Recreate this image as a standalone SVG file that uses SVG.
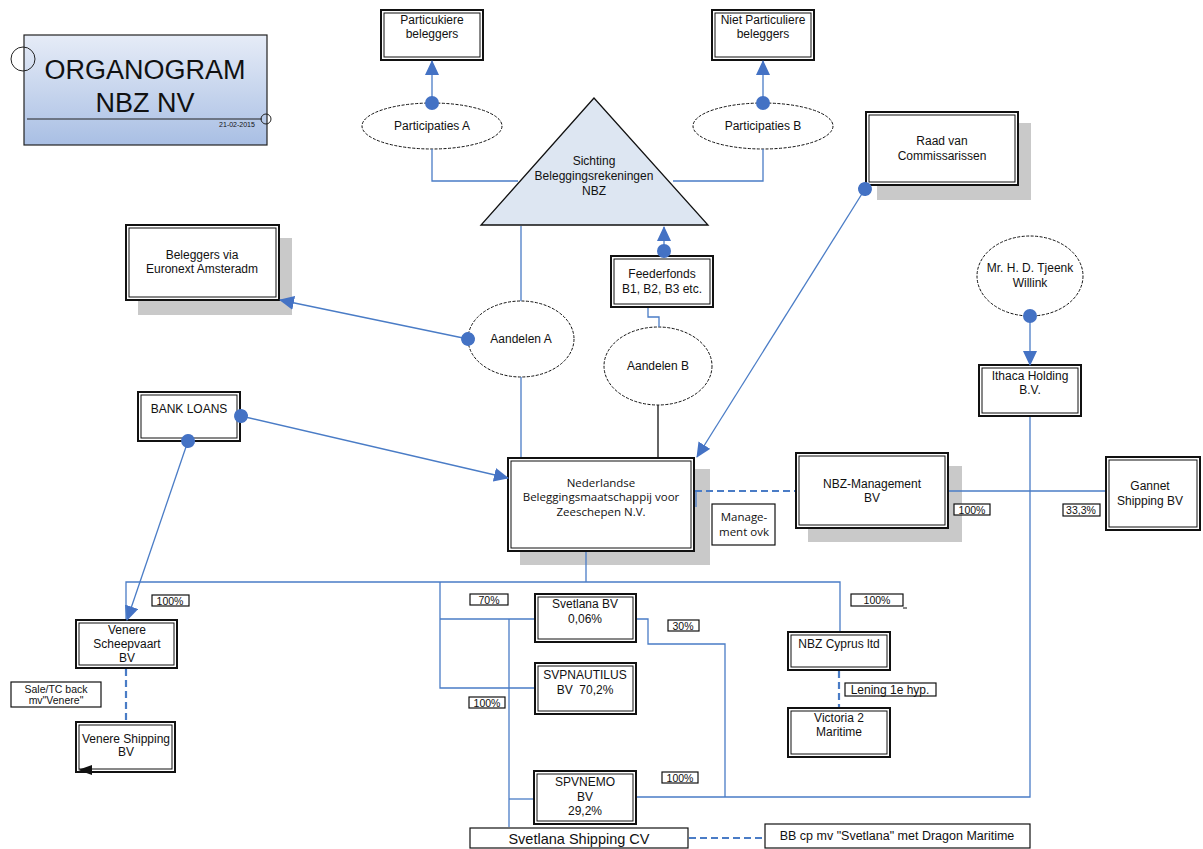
<svg xmlns="http://www.w3.org/2000/svg" width="1203" height="849" viewBox="0 0 1203 849">
<defs>
<linearGradient id="tg" x1="0" y1="0" x2="0" y2="1">
<stop offset="0" stop-color="#e6ecf7"/>
<stop offset="1" stop-color="#a9bfe4"/>
</linearGradient>
<marker id="arr" markerUnits="userSpaceOnUse" markerWidth="15" markerHeight="14" viewBox="0 0 15 14" refX="14" refY="7" orient="auto">
<path d="M0,0 L15,7 L0,14 Z" fill="#4472c4"/>
</marker>
<marker id="dot" markerUnits="userSpaceOnUse" markerWidth="16" markerHeight="16" viewBox="0 0 16 16" refX="8" refY="8" orient="auto">
<circle cx="8" cy="8" r="7" fill="#4472c4"/>
</marker>
</defs>
<style>
text{font-family:"Liberation Sans",Arial,sans-serif;fill:#111;text-anchor:middle}
.t{font-size:12px}
.os{font-family:"Open Sans","Liberation Sans",sans-serif;font-size:11.5px}
.p{font-size:10.5px}
.ob{fill:#fff;stroke:#111;stroke-width:2}
.ib{fill:none;stroke:#111;stroke-width:1}
.sh{fill:#c9c9c9}
.el{fill:#fff;stroke:#111;stroke-width:1;stroke-dasharray:3 1.5}
.lb{fill:#fff;stroke:#111;stroke-width:1.2}
.c{fill:none;stroke:#4a7cc6;stroke-width:1.3}
.cd{fill:none;stroke:#4a7cc6;stroke-width:2.2;stroke-dasharray:7 4}
.k{fill:none;stroke:#111;stroke-width:1.3}
</style>

<g id="title">
<rect x="24" y="35" width="243" height="110" fill="url(#tg)" stroke="#222" stroke-width="1.2"/>
<line x1="27" y1="119" x2="262" y2="119" stroke="#222" stroke-width="1.2"/>
<circle cx="23" cy="59" r="12" fill="none" stroke="#222" stroke-width="1"/>
<circle cx="266" cy="119" r="5" fill="none" stroke="#222" stroke-width="1"/>
<text x="145" y="79" style="font-size:27px">ORGANOGRAM</text>
<text x="145" y="112" style="font-size:27px">NBZ NV</text>
<text x="237" y="127" style="font-size:7px">21-02-2015</text>
</g>

<g id="particuliere">
<rect class="ob" x="381" y="10" width="102" height="50"/>
<rect class="ib" x="384" y="13" width="96" height="44"/>
<text class="t" x="432" y="24">Particukiere</text>
<text class="t" x="432" y="38">beleggers</text>
</g>

<g id="niet-particuliere">
<rect class="ob" x="712" y="10" width="102" height="50"/>
<rect class="ib" x="715" y="13" width="96" height="44"/>
<text class="t" x="763" y="24">Niet Particuliere</text>
<text class="t" x="763" y="38">beleggers</text>
</g>

<g id="participaties-a">
<ellipse class="el" cx="432" cy="126" rx="70" ry="23"/>
<text class="t" x="432" y="130">Participaties A</text>
</g>

<g id="participaties-b">
<ellipse class="el" cx="763" cy="126" rx="70" ry="23"/>
<text class="t" x="763" y="130">Participaties B</text>
</g>

<g id="stichting">
<polygon points="594,98 481,225 708,225" fill="#dde6f2" stroke="#111" stroke-width="1.3"/>
<text class="t" x="594" y="165">Sichting</text>
<text class="t" x="594" y="180">Beleggingsrekeningen</text>
<text class="t" x="594" y="195">NBZ</text>
</g>

<g id="euronext">
<rect class="sh" x="138" y="238" width="154" height="77"/>
<rect class="ob" x="126" y="225" width="153" height="75"/>
<rect class="ib" x="129" y="228" width="147" height="69"/>
<text class="t" x="202" y="259">Beleggers via</text>
<text class="t" x="202" y="273">Euronext Amsteradm</text>
</g>

<g id="aandelen-a">
<ellipse class="el" cx="521" cy="339" rx="53" ry="38"/>
<text class="t" x="521" y="343">Aandelen A</text>
</g>

<g id="feederfonds">
<rect class="ob" x="611" y="256" width="102" height="51"/>
<rect class="ib" x="614" y="259" width="96" height="45"/>
<text class="t" x="662" y="278">Feederfonds</text>
<text class="t" x="662" y="293">B1, B2, B3 etc.</text>
</g>

<g id="aandelen-b">
<ellipse class="el" cx="658" cy="366" rx="54" ry="39"/>
<text class="t" x="658" y="370">Aandelen B</text>
</g>

<g id="raad">
<rect class="sh" x="877" y="123" width="154" height="77"/>
<rect class="ob" x="866" y="112" width="152" height="73"/>
<rect class="ib" x="869" y="115" width="146" height="67"/>
<text class="t" x="942" y="145">Raad van</text>
<text class="t" x="942" y="160">Commissarissen</text>
</g>

<g id="tjeenk">
<ellipse class="el" cx="1030" cy="276" rx="53" ry="40"/>
<text class="t" x="1030" y="272">Mr. H. D. Tjeenk</text>
<text class="t" x="1030" y="287">Willink</text>
</g>

<g id="ithaca">
<rect class="ob" x="979" y="365" width="102" height="51"/>
<rect class="ib" x="982" y="368" width="96" height="45"/>
<text class="t" x="1030" y="380">Ithaca Holding</text>
<text class="t" x="1030" y="394">B.V.</text>
</g>

<g id="bank-loans">
<rect class="ob" x="138" y="392" width="102" height="49"/>
<rect class="ib" x="141" y="395" width="96" height="43"/>
<text class="t" x="189" y="413">BANK LOANS</text>
</g>

<g id="nederlandse">
<rect class="sh" x="520" y="469" width="190" height="96"/>
<rect class="ob" x="508" y="458" width="186" height="93"/>
<rect class="ib" x="511" y="461" width="180" height="87"/>
<text class="os" x="601" y="487">Nederlandse</text>
<text class="os" x="601" y="501">Beleggingsmaatschappij voor</text>
<text class="os" x="601" y="516">Zeeschepen N.V.</text>
</g>

<g id="management-ovk">
<rect class="lb" x="712" y="504" width="63" height="41"/>
<text class="os" x="744" y="521">Manage-</text>
<text class="os" x="744" y="536">ment ovk</text>
</g>

<g id="nbz-management">
<rect class="sh" x="808" y="466" width="154" height="76"/>
<rect class="ob" x="796" y="453" width="152" height="75"/>
<rect class="ib" x="799" y="456" width="146" height="69"/>
<text class="t" x="872" y="488">NBZ-Management</text>
<text class="t" x="872" y="502">BV</text>
</g>

<g id="gannet">
<rect class="ob" x="1106" y="457" width="94" height="73"/>
<rect class="ib" x="1109" y="460" width="88" height="67"/>
<text class="t" x="1150" y="490">Gannet</text>
<text class="t" x="1150" y="505">Shipping BV</text>
</g>

<g id="labels">
<rect class="lb" x="954" y="504" width="36" height="11"/>
<text class="p" x="972" y="513.5">100%</text>
<rect class="lb" x="1063" y="504" width="37" height="12"/>
<text class="p" x="1081" y="514">33,3%</text>
<rect class="lb" x="152" y="595" width="37" height="11"/>
<text class="p" x="170" y="604.5">100%</text>
<rect class="lb" x="470" y="594" width="38" height="11"/>
<text class="p" x="489" y="603.5">70%</text>
<rect class="lb" x="668" y="620" width="31" height="11"/>
<text class="p" x="683" y="629.5">30%</text>
<rect class="lb" x="469" y="697" width="36" height="11"/>
<text class="p" x="487" y="706.5">100%</text>
<rect class="lb" x="662" y="772" width="36" height="11"/>
<text class="p" x="680" y="781.5">100%</text>
<rect class="lb" x="851" y="594" width="52" height="12"/>
<line x1="903" y1="608" x2="907" y2="608" stroke="#111" stroke-width="1"/>
<text class="p" x="877" y="603.5">100%</text>
<rect class="lb" x="845" y="683" width="91" height="13"/>
<text class="t" x="890" y="694">Lening 1e hyp.</text>
<rect class="lb" x="11" y="682" width="90" height="25"/>
<text class="p" x="56" y="692.5">Sale/TC back</text>
<text class="p" x="56" y="704">mv"Venere"</text>
</g>

<g id="venere-scheepvaart">
<rect class="ob" x="76" y="620" width="101" height="48"/>
<rect class="ib" x="79" y="623" width="95" height="42"/>
<text class="t" x="127" y="634">Venere</text>
<text class="t" x="127" y="648">Scheepvaart</text>
<text class="t" x="127" y="662">BV</text>
</g>

<g id="venere-shipping">
<rect class="ob" x="76" y="722" width="99" height="50"/>
<rect class="ib" x="79" y="725" width="93" height="44"/>
<text class="t" x="126" y="743">Venere Shipping</text>
<text class="t" x="126" y="756">BV</text>
</g>

<g id="svetlana-bv">
<rect class="ob" x="535" y="594" width="101" height="48"/>
<rect class="ib" x="538" y="597" width="95" height="42"/>
<text class="t" x="585" y="608">Svetlana BV</text>
<text class="t" x="585" y="623">0,06%</text>
</g>

<g id="svpnautilus">
<rect class="ob" x="535" y="663" width="101" height="51"/>
<rect class="ib" x="538" y="666" width="95" height="45"/>
<text class="t" x="585" y="679">SVPNAUTILUS</text>
<text class="t" x="585" y="694" style="white-space:pre">BV  70,2%</text>
</g>

<g id="spvnemo">
<rect class="ob" x="534" y="771" width="102" height="53"/>
<rect class="ib" x="537" y="774" width="96" height="47"/>
<text class="t" x="585" y="786">SPVNEMO</text>
<text class="t" x="585" y="801">BV</text>
<text class="t" x="585" y="815">29,2%</text>
</g>

<g id="nbz-cyprus">
<rect class="ob" x="788" y="632" width="102" height="38"/>
<rect class="ib" x="791" y="635" width="96" height="32"/>
<text class="t" x="839" y="648">NBZ Cyprus ltd</text>
</g>

<g id="victoria">
<rect class="ob" x="788" y="708" width="102" height="49"/>
<rect class="ib" x="791" y="711" width="96" height="43"/>
<text class="t" x="839" y="722">Victoria 2</text>
<text class="t" x="839" y="736">Maritime</text>
</g>

<g id="svetlana-shipping">
<rect class="lb" x="470" y="828" width="218" height="20"/>
<text x="579" y="844" style="font-size:14.5px">Svetlana Shipping CV</text>
</g>

<g id="bb-dragon">
<rect class="lb" x="765" y="824" width="265" height="24"/>
<text x="897" y="840" style="font-size:12.5px">BB cp mv "Svetlana" met Dragon Maritime</text>
</g>

<g id="connectors">
<path class="c" d="M432,103 V61" marker-start="url(#dot)" marker-end="url(#arr)"/>
<path class="c" d="M763,103 V61" marker-start="url(#dot)" marker-end="url(#arr)"/>
<path class="c" d="M432,149 V181 H518"/>
<path class="c" d="M763,149 V181 H673"/>
<path class="c" d="M521,226 V301"/>
<path class="c" d="M521,377 V457"/>
<path class="c" d="M664,251 V227" marker-start="url(#dot)" marker-end="url(#arr)"/>
<path class="c" d="M659,327 V317 H648 V308"/>
<path class="k" d="M658,405 V457"/>
<path class="c" d="M468,339 L280,300" marker-start="url(#dot)" marker-end="url(#arr)"/>
<path class="c" d="M241,416 L508,478" marker-start="url(#dot)" marker-end="url(#arr)"/>
<path class="c" d="M188,441 L127,620" marker-start="url(#dot)" marker-end="url(#arr)"/>
<path class="c" d="M865,189 L697,457" marker-start="url(#dot)" marker-end="url(#arr)"/>
<path class="c" d="M1030,316 V365" marker-start="url(#dot)" marker-end="url(#arr)"/>
<path class="c" d="M1030,417 V797 H637"/>
<path class="c" d="M586,552 V582"/>
<path class="c" d="M126,619 V582 H840 V631"/>
<path class="c" d="M440,582 V688 H534"/>
<path class="c" d="M440,619 H534"/>
<path class="c" d="M509,619 V827"/>
<path class="c" d="M509,799 H533"/>
<path class="c" d="M637,619 H648 V644 H725 V797"/>
<path class="c" d="M696,492 V507"/>
<path class="cd" d="M695,491 H795"/>
<path class="c" d="M949,491 H1105"/>
<path class="cd" d="M839,671 V707"/>
<path class="cd" d="M126,669 V721"/>
<path class="cd" d="M689,838 H764"/>
<path d="M78,770 L92,765 L92,775 Z" fill="#111"/>
</g>
</svg>
